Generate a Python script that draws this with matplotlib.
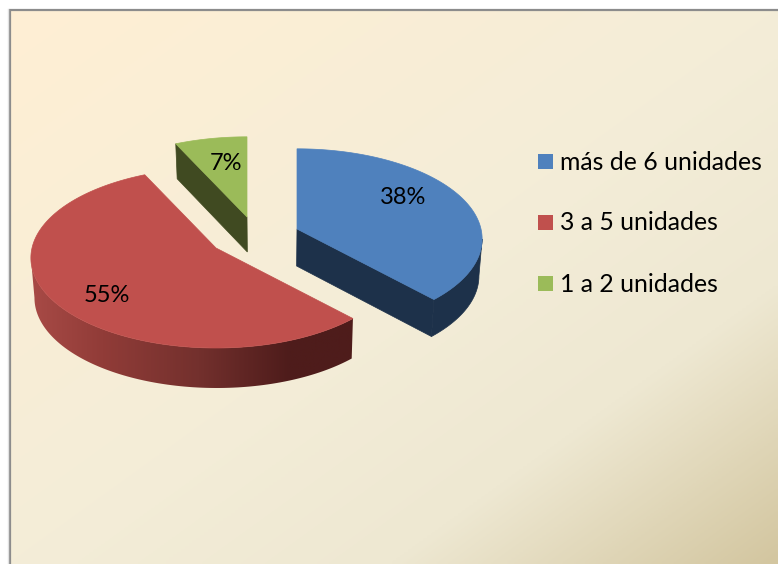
#!/usr/bin/python

import numpy as np
import matplotlib
matplotlib.use('Agg')
import matplotlib.pyplot as plt
from matplotlib.patches import Polygon, Rectangle
from matplotlib.colors import LinearSegmentedColormap

labels = ['más de 6 unidades', '3 a 5 unidades', '1 a 2 unidades']
values = [38, 55, 7]
top_colors = ['#4f81bd', '#c0504d', '#9bbb59']
wall_colors = ['#1d314a', '#4e1c1b', '#404a21']

W, H = 778, 564

# where the tip of each exploded slice sits, in pixels
tips = [(297, 229), (216, 248), (247, 217)]
depths = [37.0, 40.0, 35.0]
label_pos = [(403, 198), (107, 296), (226, 163)]
legend_y = [161, 222, 283]

# fake 3d pie
a = 184.0
b = 89.0
k = 0.11
xshrink = 0.985
xvan = 270.0


def project(theta, tip):
    # theta clockwise from the back of the pie
    u = np.sin(theta)
    v = -np.cos(theta)
    s = 1.0 / (1.0 - k * v)
    return tip[0] + a * u * s, tip[1] + b * v * s


def lower(x, y, depth):
    return xvan + (x - xvan) * xshrink, y + depth


def wall_outline(xs, ys, depth):
    xb, yb = lower(xs, ys, depth)
    return np.column_stack((np.concatenate((xs, xb[::-1])), np.concatenate((ys, yb[::-1]))))


fig = plt.figure(figsize = (W / 100.0, H / 100.0), dpi = 100)
ax = fig.add_axes([0, 0, 1, 1])

# background
bg = LinearSegmentedColormap.from_list('bg', [(0.0, '#ffefd4'), (0.5, '#f4edd8'),
                                              (0.75, '#eee8d2'), (1.0, '#d3c6a0')])
yy, xx = np.mgrid[0:1:200j, 0:1:200j]
ax.imshow((xx + yy) / 2.0, cmap = bg, vmin = 0, vmax = 1, extent = (10, W, H, 10),
          aspect = 'auto', zorder = 0, interpolation = 'bilinear')
ax.plot([10, 10], [H, 10], color = '#8c8c8c', lw = 1.6, zorder = 1, solid_capstyle = 'butt')
ax.plot([9, W], [10, 10], color = '#8c8c8c', lw = 1.6, zorder = 1, solid_capstyle = 'butt')
ax.plot([8.4, 8.4], [H, 9], color = '#e2e2e2', lw = 1.0, zorder = 1)

# shading of the red outer wall, dark to the right
redwall = LinearSegmentedColormap.from_list('redwall', [(0.0, '#a84a46'), (0.22, '#913c38'),
                                                        (0.52, '#73302d'), (0.8, '#4e1c1b'),
                                                        (1.0, '#4e1c1b')])

fracs = np.array(values, dtype = float) / sum(values)
edges = np.concatenate(([0.0], np.cumsum(fracs))) * 2.0 * np.pi

for i in range(len(values)):
    th = np.linspace(edges[i], edges[i + 1], 160)
    x, y = project(th, tips[i])
    tip = tips[i]
    d = depths[i]

    # outer wall, only the part that faces the viewer
    if i == 0:
        j = np.argmax(x)
        wall = Polygon(wall_outline(x[j:], y[j:], d), closed = True, zorder = 2,
                       fc = wall_colors[i], ec = wall_colors[i], lw = 0.5)
        ax.add_patch(wall)
    if i == 1:
        j = np.argmin(x)
        wall = Polygon(wall_outline(x[:j + 1], y[:j + 1], d), closed = True, zorder = 2,
                       fc = 'none', ec = 'none')
        ax.add_patch(wall)
        grad = ax.imshow(np.linspace(0, 1, 256).reshape(1, -1), cmap = redwall, aspect = 'auto',
                         extent = (x.min(), x.max(), y.max() + d, y.min()), zorder = 2)
        grad.set_clip_path(wall)

    # cut faces that look towards the viewer
    if i == 0:
        cut = wall_outline(np.array([tip[0], x[-1]]), np.array([tip[1], y[-1]]), d)
        ax.add_patch(Polygon(cut, closed = True, fc = wall_colors[i], ec = wall_colors[i],
                             lw = 0.5, zorder = 2))
    if i == 2:
        cut = wall_outline(np.array([x[0], tip[0]]), np.array([y[0], tip[1]]), d)
        ax.add_patch(Polygon(cut, closed = True, fc = wall_colors[i], ec = wall_colors[i],
                             lw = 0.5, zorder = 2))

    # top face
    top = np.column_stack((np.concatenate(([tip[0]], x)), np.concatenate(([tip[1]], y))))
    ax.add_patch(Polygon(top, closed = True, fc = top_colors[i], ec = top_colors[i],
                         lw = 0.5, zorder = 3))

    ax.text(label_pos[i][0], label_pos[i][1], '%d%%' % values[i], fontsize = 17,
            family = 'Lato', ha = 'center', va = 'center', color = 'black', zorder = 4)

    # legend
    ax.add_patch(Rectangle((538, legend_y[i] - 7.5), 15, 15, fc = top_colors[i], ec = 'none', zorder = 3))
    ax.text(560, legend_y[i] + 1, labels[i], fontsize = 17.8, family = 'Lato', ha = 'left',
            va = 'center', color = 'black', zorder = 4)

ax.set_xlim(0, W)
ax.set_ylim(H, 0)
ax.axis('off')

plt.savefig('out.png', dpi = 100)
